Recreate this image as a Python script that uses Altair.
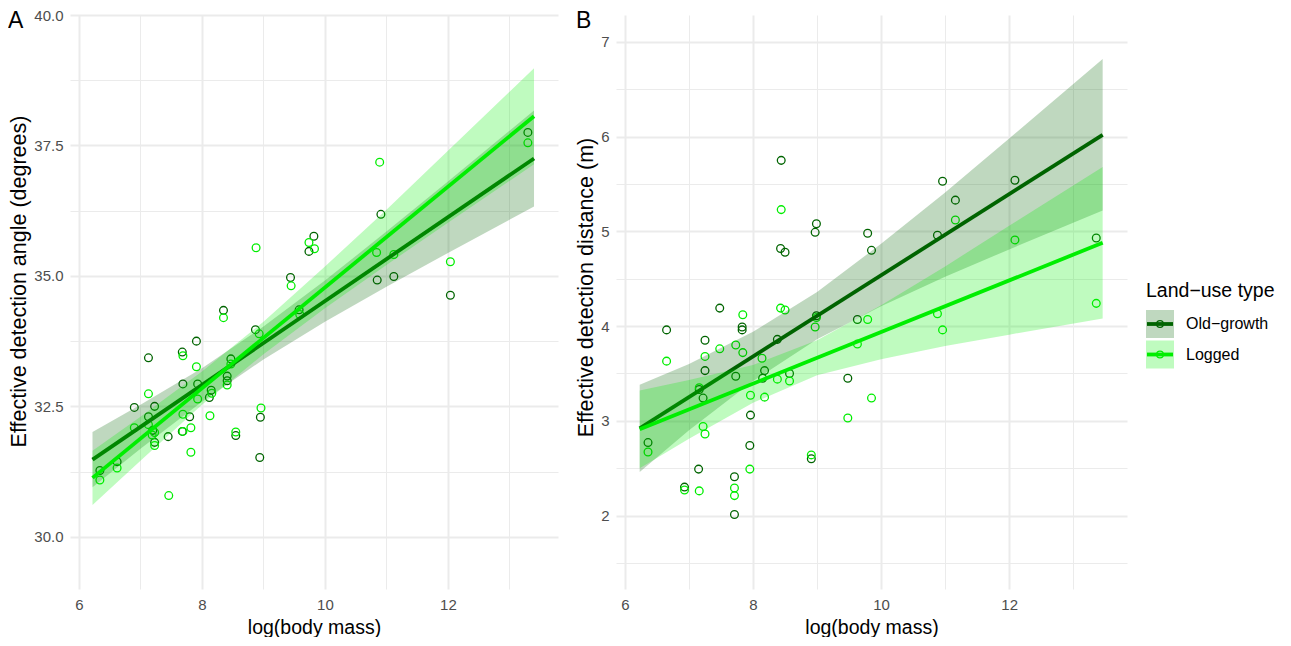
import altair as alt
import pandas as pd

GROUPS = ["Old−growth", "Logged"]
COLORS = ["#006400", "#00EE00"]
FONT = "Liberation Sans"

# ---------------- Panel A : effective detection angle ----------------
a_old_x = [6.34, 6.62, 6.90, 7.13, 7.13, 7.20, 7.23, 7.23, 7.45, 7.68, 7.69, 7.80, 7.68,
           7.91, 7.93, 8.12, 8.15, 8.35, 8.41, 8.41, 8.47, 8.55, 8.87, 8.95, 8.94, 9.44,
           9.58, 9.74, 9.82, 10.85, 10.91, 11.12, 12.04, 13.30]
a_old_y = [31.27, 31.44, 32.48, 33.43, 32.30, 32.04, 32.50, 31.81, 31.92, 33.54, 32.93, 32.30, 32.02,
           33.75, 32.93, 32.67, 32.81, 34.34, 33.08, 32.99, 33.41, 31.94, 33.97, 32.29, 31.52, 34.97,
           34.35, 35.47, 35.76, 34.92, 36.18, 34.99, 34.63, 37.75]
a_log_x = [6.34, 6.62, 6.90, 7.13, 7.13, 7.19, 7.23, 7.23, 7.46, 7.69, 7.69, 7.69, 7.82, 7.82,
           7.91, 7.93, 8.13, 8.16, 8.35, 8.41, 8.47, 8.55, 8.88, 8.93, 8.96, 9.45, 9.59, 9.74,
           9.83, 10.84, 10.89, 11.12, 12.04, 13.30]
a_log_y = [31.09, 31.32, 32.09, 32.74, 32.15, 31.95, 32.00, 31.75, 30.79, 33.47, 32.35, 32.02, 32.09, 31.62,
           33.26, 32.64, 32.32, 32.75, 34.20, 32.91, 33.31, 32.01, 35.54, 33.89, 32.47, 34.81, 34.26, 35.64,
           35.52, 35.45, 37.18, 35.41, 35.27, 37.55]
a_line_x = [6.22, 13.40]
a_old_line = [31.48, 37.25]
a_log_line = [31.13, 38.06]
a_band_x = [6.22, 7, 8, 9, 10, 11, 12, 13.40]
a_old_lo = [30.95, 31.69, 32.59, 33.40, 34.12, 34.79, 35.44, 36.33]
a_old_hi = [32.01, 32.53, 33.23, 34.03, 34.91, 35.85, 36.81, 38.17]
a_log_lo = [30.61, 31.46, 32.53, 33.50, 34.38, 35.21, 36.02, 37.14]
a_log_hi = [31.65, 32.30, 33.17, 34.12, 35.18, 36.27, 37.40, 38.98]

# ---------------- Panel B : effective detection distance ----------------
b_old_x = [6.36, 6.65, 6.93, 7.15, 7.16, 7.22, 7.25, 7.25, 7.48, 7.71, 7.71, 7.73, 7.83, 7.83,
           7.95, 7.96, 8.15, 8.18, 8.38, 8.43, 8.44, 8.50, 8.57, 8.91, 8.97, 8.99, 8.99, 9.48,
           9.63, 9.79, 9.85, 10.88, 10.96, 11.16, 12.09, 13.36]
b_old_y = [2.77, 3.96, 2.30, 2.49, 3.33, 3.24, 3.85, 3.53, 4.19, 2.41, 2.01, 3.47, 3.99, 3.96,
           2.74, 3.06, 3.45, 3.53, 3.86, 4.82, 5.75, 4.78, 3.50, 2.60, 4.99, 5.08, 4.11, 3.45,
           4.07, 4.98, 4.80, 4.96, 5.53, 5.33, 5.54, 4.93]
b_log_x = [6.36, 6.65, 6.93, 7.16, 7.16, 7.22, 7.25, 7.25, 7.48, 7.71, 7.71, 7.73, 7.84, 7.84,
           7.95, 7.96, 8.14, 8.18, 8.38, 8.43, 8.44, 8.50, 8.57, 8.91, 8.97, 8.99, 9.48, 9.63,
           9.79, 9.85, 10.88, 10.96, 11.16, 12.09, 13.36]
b_log_y = [2.67, 3.63, 2.27, 2.26, 3.35, 2.94, 2.86, 3.68, 3.76, 2.29, 2.21, 3.80, 4.12, 3.72,
           2.49, 3.27, 3.66, 3.25, 3.44, 4.19, 5.23, 4.17, 3.42, 2.64, 3.99, 4.09, 3.03, 3.81,
           4.07, 3.24, 4.13, 3.96, 5.12, 4.91, 4.24]
b_line_x = [6.23, 13.46]
b_old_line = [2.92, 6.02]
b_log_line = [2.91, 4.88]
b_band_x = [6.23, 7, 8, 9, 10, 11, 12, 13.46]
b_old_lo = [2.46, 2.90, 3.42, 3.86, 4.21, 4.52, 4.81, 5.22]
b_old_hi = [3.38, 3.60, 3.94, 4.36, 4.87, 5.41, 5.98, 6.82]
b_log_lo = [2.50, 2.81, 3.19, 3.48, 3.65, 3.79, 3.91, 4.08]
b_log_hi = [3.32, 3.43, 3.59, 3.85, 4.22, 4.63, 5.06, 5.68]

PLOT_H = 574


def color_scale():
    return alt.Scale(domain=GROUPS, range=COLORS)


def panel(ox, oy, lx, ly, line_x, old_line, log_line, band_x, olo, ohi, llo, lhi,
          xdom, ydom, yvals, ymajor, yfmt, ytitle, title_y, letter, letter_x, width):
    pts = pd.concat([
        pd.DataFrame({"x": ox, "y": oy, "g": GROUPS[0]}),
        pd.DataFrame({"x": lx, "y": ly, "g": GROUPS[1]}),
    ])
    xs = alt.Scale(domain=xdom, nice=False, zero=False)
    ys = alt.Scale(domain=ydom, nice=False, zero=False)
    xaxis = alt.Axis(
        values=[6, 7, 8, 9, 10, 11, 12, 13], format=".0f",
        labelExpr="datum.value % 2 === 0 ? datum.label : ''",
        title="log(body mass)", domain=False, ticks=False,
        gridColor="#EBEBEB",
        gridWidth={"condition": {"test": "datum.value % 2 === 0", "value": 2}, "value": 1},
        labelFont=FONT, labelFontSize=15, labelColor="#4D4D4D", labelPadding=8,
        titleFont=FONT, titleFontSize=19.5, titleFontWeight="normal", titleColor="black",
        titlePadding=6, labelOverlap=False,
    )
    yaxis = alt.Axis(
        values=yvals, format=yfmt,
        labelExpr=f"datum.value % {ymajor} === 0 ? datum.label : ''",
        title=ytitle, domain=False, ticks=False,
        gridColor="#EBEBEB",
        gridWidth={"condition": {"test": f"datum.value % {ymajor} === 0", "value": 2}, "value": 1},
        labelFont=FONT, labelFontSize=15, labelColor="#4D4D4D", labelPadding=7,
        titleFont=FONT, titleFontSize=21.5, titleFontWeight="normal", titleColor="black",
        titlePadding=3, titleY=title_y, labelOverlap=False,
    )
    points = alt.Chart(pts).mark_point(shape="circle", filled=False, size=60, strokeWidth=1.3, opacity=1).encode(
        x=alt.X("x:Q", scale=xs, axis=xaxis),
        y=alt.Y("y:Q", scale=ys, axis=yaxis),
        color=alt.Color("g:N", scale=color_scale(), legend=None),
    )
    layers = [points]
    for gi, (lo, hi, line) in enumerate([(olo, ohi, old_line), (llo, lhi, log_line)]):
        band_df = pd.DataFrame({"x": band_x, "lo": lo, "hi": hi, "g": GROUPS[gi]})
        line_df = pd.DataFrame({"x": line_x, "y": line, "g": GROUPS[gi]})
        band = alt.Chart(band_df).mark_area(opacity=0.25).encode(
            x=alt.X("x:Q", scale=xs), y=alt.Y("lo:Q", scale=ys), y2="hi:Q",
            color=alt.Color("g:N", scale=color_scale(), legend=None),
        )
        ln = alt.Chart(line_df).mark_line(strokeWidth=3.8).encode(
            x=alt.X("x:Q", scale=xs), y=alt.Y("y:Q", scale=ys),
            color=alt.Color("g:N", scale=color_scale(), legend=None),
        )
        layers += [band, ln]
    lab = alt.Chart(pd.DataFrame({"t": [letter]})).mark_text(
        align="left", baseline="middle", font=FONT, fontSize=23, color="black"
    ).encode(x=alt.value(letter_x), y=alt.value(6), text="t:N")
    layers.append(lab)
    return alt.layer(*layers).properties(width=width, height=PLOT_H)


panel_a = panel(a_old_x, a_old_y, a_log_x, a_log_y, a_line_x, a_old_line, a_log_line,
                a_band_x, a_old_lo, a_old_hi, a_log_lo, a_log_hi,
                [5.854, 13.79], [29, 40],
                [30, 31.25, 32.5, 33.75, 35, 36.25, 37.5, 38.75, 40], 2.5, ".1f",
                "Effective detection angle (degrees)", 266, "A", -62, 488)

panel_b = panel(b_old_x, b_old_y, b_log_x, b_log_y, b_line_x, b_old_line, b_log_line,
                b_band_x, b_old_lo, b_old_hi, b_log_lo, b_log_hi,
                [5.86, 13.84], [1.224, 7.285],
                [1.5, 2, 2.5, 3, 3.5, 4, 4.5, 5, 5.5, 6, 6.5, 7], 1, ".0f",
                "Effective detection distance (m)", 272, "B", -40, 511)

# ---------------- Legend (drawn by hand, ggplot style) ----------------
leg_df = pd.DataFrame({"g": GROUPS})
yenc = alt.Y("g:N", scale=alt.Scale(type="point", domain=GROUPS, range=[309, 339.5], padding=0), axis=None)
cenc = alt.Color("g:N", scale=color_scale(), legend=None)
leg_base = alt.Chart(leg_df)
leg_box = leg_base.mark_square(size=784, opacity=0.25).encode(x=alt.value(-25), y=yenc, color=cenc)
leg_rule = leg_base.mark_rule(strokeWidth=3.8).encode(x=alt.value(-38), x2=alt.value(-12), y=yenc, color=cenc)
leg_pt = leg_base.mark_point(shape="circle", filled=False, size=45, strokeWidth=1.3, opacity=1).encode(
    x=alt.value(-25), y=yenc, color=cenc)
leg_txt = leg_base.mark_text(align="left", baseline="middle", font=FONT, fontSize=16, color="black").encode(
    x=alt.value(1), y=yenc, text="g:N")
leg_title = alt.Chart(pd.DataFrame({"t": ["Land−use type"]})).mark_text(
    align="left", baseline="middle", font=FONT, fontSize=19.5, color="black"
).encode(x=alt.value(-39), y=alt.value(276), text="t:N")
legend = alt.layer(leg_box, leg_rule, leg_pt, leg_txt, leg_title).properties(width=90, height=PLOT_H)

chart = alt.hconcat(panel_a, panel_b, legend, spacing=58, bounds="flush").properties(
    padding=0, background="white"
).configure_view(stroke=None)

chart.save("out.html", embed_options={"renderer": "svg", "actions": False})
